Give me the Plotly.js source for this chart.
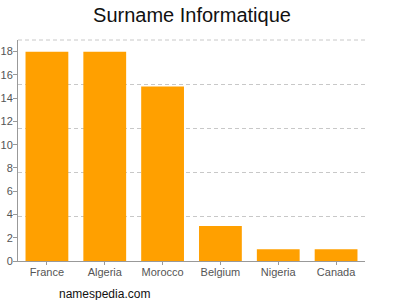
<!DOCTYPE html>
<html>
<head>
<meta charset="utf-8">
<script src="https://cdn.plot.ly/plotly-3.0.1.min.js"></script>
<style>html,body{margin:0;padding:0;background:#fff;}#chart{width:400px;height:300px;}</style>
</head>
<body>
<div id="chart"></div>
<script>
const countries = ["France", "Algeria", "Morocco", "Belgium", "Nigeria", "Canada"];
const counts = [18, 18, 15, 3, 1, 1];
const yTickVals = [0, 2, 4, 6, 8, 10, 12, 14, 16, 18];
const gridVals = [0, 3.8, 7.6, 11.4, 15.2];
const chartTitle = "Surname Informatique";
const sourceText = "namespedia.com";

const trace = {
  type: "bar",
  x: countries,
  y: counts,
  marker: {color: "#ffa000", line: {width: 0}},
  hoverinfo: "none"
};

const layout = {
  width: 400, height: 300,
  margin: {l: 18, r: 35, t: 40, b: 39, pad: 0},
  paper_bgcolor: "#fff", plot_bgcolor: "#fff",
  showlegend: false,
  bargap: 0.26,
  font: {family: "Liberation Sans, Arial, sans-serif", size: 11, color: "#555"},
  title: {text: chartTitle, x: 0.48, xanchor: "center", y: 0.975, yanchor: "top",
          font: {family: "Liberation Sans, Arial, sans-serif", size: 20, color: "#111"}},
  xaxis: {
    showline: true, linecolor: "#999", linewidth: 1,
    ticks: "outside", ticklen: 3, tickcolor: "#999",
    ticklabelstandoff: -2,
    tickfont: {size: 11, color: "#555"},
    showgrid: false, fixedrange: true
  },
  yaxis: {
    range: [0, 19], tickvals: yTickVals,
    showline: true, linecolor: "#999", linewidth: 1,
    ticks: "outside", ticklen: 4, tickcolor: "#999",
    ticklabelstandoff: -2,
    tickfont: {size: 11, color: "#555"},
    showgrid: false, zeroline: false, fixedrange: true
  },
  yaxis2: {
    range: [0, 19], overlaying: "y", side: "left",
    tickvals: gridVals, showticklabels: false, ticks: "",
    showgrid: true, gridcolor: "#c8c8c8", griddash: "4px,3px", gridwidth: 1,
    zeroline: false, showline: false, fixedrange: true
  },
  shapes: [{
    type: "line", xref: "paper", yref: "paper", x0: 0, x1: 1, y0: 1, y1: 1,
    line: {color: "#c8c8c8", width: 1, dash: "4px,3px"}, layer: "below"
  }],
  annotations: [{
    text: sourceText, xref: "paper", yref: "paper", x: 0.25, y: -0.11,
    xanchor: "center", yanchor: "top", showarrow: false,
    font: {family: "Liberation Sans, Arial, sans-serif", size: 12, color: "#111"}
  }]
};

const gridTrace = {type: "scatter", x: [countries[0]], y: [null], yaxis: "y2", hoverinfo: "none", showlegend: false};

Plotly.newPlot("chart", [gridTrace, trace], layout, {displayModeBar: false, staticPlot: true});
</script>
</body>
</html>
